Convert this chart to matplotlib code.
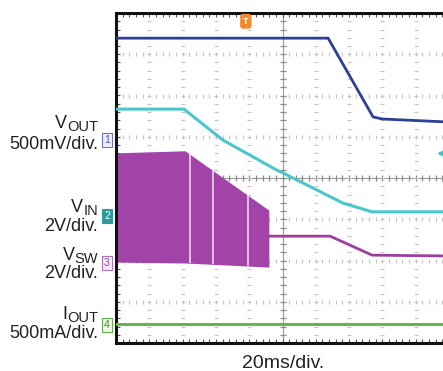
import numpy as np
import matplotlib
matplotlib.use('Agg')
import matplotlib.pyplot as plt

plt.rcParams['font.family'] = ['Liberation Sans', 'DejaVu Sans']

# screen coordinates in divisions (x: 0..10, y: 0..8)
vout_t = [0.0, 6.37, 7.72, 8.0, 9.9]
vout_v = [7.39, 7.39, 5.48, 5.43, 5.36]

vin_t = [0.0, 2.04, 3.21, 4.83, 5.02, 6.82, 7.69, 9.9]
vin_v = [5.67, 5.67, 4.92, 4.19, 4.12, 3.39, 3.18, 3.18]

# switching burst envelope
sw_t = [0.0, 2.07, 4.59]
sw_top = [4.61, 4.66, 3.22]
sw_bot = [1.96, 1.94, 1.84]
sw_gaps = [2.22, 2.91, 3.96]

vsw_t = [4.59, 6.43, 7.69, 9.9]
vsw_v = [2.59, 2.59, 2.13, 2.11]

iout_t = [0.0, 9.9]
iout_v = [0.46, 0.46]

# channel markers: (label, level)
markers = [('1', 4.92), ('2', 3.08), ('3', 1.94), ('4', 0.44)]
marker_styles = {
    '1': dict(fc='#eeeefa', ec='#7070c0', tc='#5050b0'),
    '2': dict(fc='#2a9d9a', ec='#2a9d9a', tc='white'),
    '3': dict(fc='#f6eefa', ec='#b070c0', tc='#9040a0'),
    '4': dict(fc='#eef8ea', ec='#60b050', tc='#409030'),
}

# channel names (main, subscript), scale text, baselines in px
ch_names = [('V', 'OUT'), ('V', 'IN'), ('V', 'SW'), ('I', 'OUT')]
ch_scales = ['500mV/div.', '2V/div.', '2V/div.', '500mA/div.']
name_base = [128, 212, 260, 319]
scale_base = [149, 231, 278, 338]

W, H = 443, 371
fig = plt.figure(figsize=(W / 100, H / 100), dpi=100)
ax = fig.add_axes([116 / W, (H - 343) / H, 333 / W, 330 / H])
ax.set_xlim(0, 10)
ax.set_ylim(0, 8)

# grid: dotted lines made of small marks every 1/5 div
grid_c = '#c4c4c4'
xs = np.arange(0, 10.01, 0.2)
ys = np.arange(0, 8.01, 0.2)
for gy in range(1, 8):
    if gy == 4:
        ax.axhline(gy, color='#9a9a9a', lw=0.8, zorder=1)
        ax.plot(xs, [gy] * len(xs), ls='none', marker='|', ms=5, mew=0.9, color='#8a8a8a', zorder=1)
    else:
        ax.plot(xs, [gy] * len(xs), ls='none', marker='|', ms=2.5, mew=0.8, color=grid_c, zorder=1)
for gx in range(1, 10):
    if gx == 5:
        ax.axvline(gx, color='#9a9a9a', lw=0.8, zorder=1)
        ax.plot([gx] * len(ys), ys, ls='none', marker='_', ms=5, mew=0.9, color='#8a8a8a', zorder=1)
    else:
        ax.plot([gx] * len(ys), ys, ls='none', marker='_', ms=2.5, mew=0.8, color=grid_c, zorder=1)

# traces
ax.fill_between(sw_t, sw_bot, sw_top, color='#a243a8', lw=0, zorder=2)
gap_top = np.interp(sw_gaps, sw_t, sw_top)
gap_bot = np.interp(sw_gaps, sw_t, sw_bot)
ax.vlines(sw_gaps, gap_bot, gap_top, color='white', lw=1.1, alpha=0.85, zorder=2)
ax.plot(vsw_t, vsw_v, color='#9c3fa0', lw=2.0, zorder=3)
ax.plot(vin_t, vin_v, color='#4cc6cd', lw=2.2, zorder=3)
ax.plot(vout_t, vout_v, color='#2d3f98', lw=2.0, zorder=3)
ax.plot(iout_t, iout_v, color='#62b84a', lw=2.2, zorder=3)

# trigger markers
ax.text(3.9, 7.8, 'T', color='white', fontsize=6.5, fontweight='bold', ha='center', va='center',
        bbox=dict(boxstyle='round,pad=0.25', fc='#f08a30', ec='#f08a30'), zorder=5)
ax.plot([9.8], [4.6], marker='<', ms=6, color='#3ec0c6', clip_on=False, zorder=5)

# channel markers on the left
for lab, lvl in markers:
    st = marker_styles[lab]
    ax.text(-0.27, lvl, lab, color=st['tc'], fontsize=7.5, ha='center', va='center',
            clip_on=False,
            bbox=dict(boxstyle='square,pad=0.18', fc=st['fc'], ec=st['ec'], lw=0.8))

for side in ['left', 'bottom', 'top']:
    ax.spines[side].set_linewidth(2.2)
    ax.spines[side].set_color('#111111')
ax.spines['right'].set_visible(False)

ax.set_xticks([])
ax.set_yticks([])
ax.set_xticks(np.arange(0.2, 10, 0.2), minor=True)
ax.set_yticks(np.arange(0.2, 8, 0.2), minor=True)
ax.tick_params(which='minor', direction='in', length=3, width=0.8, color='#555555',
               top=True, bottom=True, left=True, right=False,
               labelbottom=False, labelleft=False)

# channel labels (subscript drawn separately so it sits close to the letter)
renderer = fig.canvas.get_renderer()
lbl_x = 98
tc = '#222222'
for (main, sub), yb in zip(ch_names, name_base):
    s = fig.text(lbl_x / W, 1 - (yb + 3) / H, sub, ha='right', va='baseline',
                 fontsize=10.5, color=tc)
    sw = s.get_window_extent(renderer).width
    fig.text((lbl_x - sw) / W, 1 - yb / H, main, ha='right', va='baseline',
             fontsize=13, color=tc)
for txt, yb in zip(ch_scales, scale_base):
    fig.text(lbl_x / W, 1 - yb / H, txt, ha='right', va='baseline', fontsize=13, color=tc)

fig.text(283 / W, 1 - 368 / H, '20ms/div.', ha='center', va='baseline', fontsize=14, color=tc)

fig.savefig('out.png', dpi=100)
